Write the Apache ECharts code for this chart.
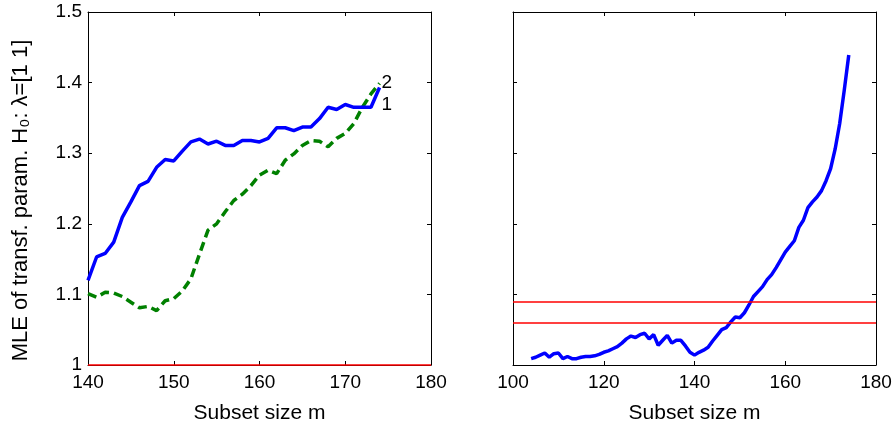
<!DOCTYPE html>
<html>
<head>
<meta charset="utf-8">
<script src="https://cdn.jsdelivr.net/npm/echarts@6/dist/echarts.min.js"></script>
<style>
  html, body { margin: 0; padding: 0; background: #fff; }
  #main { width: 894px; height: 426px; }
</style>
</head>
<body>
<div id="main"></div>
<script>
// left panel: subset sizes 140..174
var mLeft = [140, 141, 142, 143, 144, 145, 146, 147, 148, 149, 150, 151, 152, 153, 154, 155, 156, 157,
  158, 159, 160, 161, 162, 163, 164, 165, 166, 167, 168, 169, 170, 171, 172, 173, 174]
var mle1 = [1.120, 1.153, 1.158, 1.174, 1.209, 1.231, 1.254, 1.260, 1.280, 1.291, 1.289, 1.303, 1.316,
  1.320, 1.313, 1.317, 1.311, 1.311, 1.318, 1.318, 1.316, 1.321, 1.336, 1.336, 1.332, 1.337, 1.337,
  1.349, 1.365, 1.362, 1.369, 1.365, 1.365, 1.365, 1.393]
var mle2 = [1.101, 1.096, 1.103, 1.102, 1.097, 1.089, 1.081, 1.083, 1.077, 1.091, 1.094, 1.105, 1.122,
  1.157, 1.191, 1.200, 1.217, 1.233, 1.242, 1.254, 1.269, 1.276, 1.271, 1.290, 1.299, 1.311, 1.318,
  1.317, 1.309, 1.321, 1.328, 1.342, 1.365, 1.384, 1.399]

// right panel: subset sizes 104..174
var mRight = []
for (var i = 104; i <= 174; i++) mRight.push(i)
var stat = [1.009, 1.011, 1.014, 1.017, 1.011, 1.016, 1.017, 1.009, 1.012, 1.009, 1.009, 1.011, 1.012,
  1.012, 1.013, 1.015, 1.018, 1.020, 1.023, 1.026, 1.031, 1.037, 1.041, 1.039, 1.043, 1.045, 1.037,
  1.043, 1.028, 1.035, 1.042, 1.031, 1.035, 1.035, 1.027, 1.018, 1.014, 1.018, 1.021, 1.025, 1.034,
  1.042, 1.050, 1.053, 1.061, 1.068, 1.067, 1.074, 1.085, 1.097, 1.104, 1.111, 1.121, 1.128, 1.138,
  1.149, 1.160, 1.168, 1.176, 1.195, 1.205, 1.223, 1.231, 1.238, 1.247, 1.261, 1.278, 1.306, 1.342,
  1.389, 1.439]
var bands = [1.0915, 1.0600]

function pairs(xs, ys) {
  return xs.map(function(x, k) { return [x, ys[k]] })
}

var font = 'Liberation Sans, Arial, sans-serif'
var black = '#000'

function xAx(idx, min, max, step, pos, labels) {
  return {
    type: 'value', gridIndex: idx, min: min, max: max, interval: step, position: pos,
    name: labels ? 'Subset size m' : '', nameLocation: 'middle', nameGap: 38,
    nameTextStyle: { color: black, fontSize: 21, fontFamily: font },
    axisLine: { show: true, onZero: false, lineStyle: { color: black, width: 1 } },
    axisTick: { show: true, inside: true, length: 4, lineStyle: { color: black } },
    axisLabel: { show: labels, color: black, fontSize: 19, fontFamily: font, margin: 8 },
    splitLine: { show: false },
  }
}
function yAx(idx, pos, labels, name) {
  return {
    type: 'value', gridIndex: idx, min: 1, max: 1.5, interval: 0.1, position: pos,
    name: name || '', nameLocation: 'middle', nameGap: 56,
    nameTextStyle: { color: black, fontSize: 22, fontFamily: font, padding: [0, 24, 0, 0] },
    axisLine: { show: true, onZero: false, lineStyle: { color: black, width: 1 } },
    axisTick: { show: true, inside: true, length: 4, lineStyle: { color: black } },
    axisLabel: {
      show: labels, color: black, fontSize: 19, fontFamily: font, margin: 6,
      formatter: function(v) { return v === 1 ? '1' : v.toFixed(1) },
    },
    splitLine: { show: false },
  }
}

var chart = echarts.init(document.getElementById('main'))
var option = {
  animation: false,
  backgroundColor: '#fff',
  grid: [
    { left: 88, top: 12, width: 343, height: 353, outerBoundsMode: 'none' },
    { left: 513, top: 12, width: 363, height: 353, outerBoundsMode: 'none' },
  ],
  xAxis: [
    xAx(0, 140, 180, 10, 'bottom', true),
    xAx(0, 140, 180, 10, 'top', false),
    xAx(1, 100, 180, 20, 'bottom', true),
    xAx(1, 100, 180, 20, 'top', false),
  ],
  yAxis: [
    yAx(0, 'left', true, 'MLE of transf. param. H\u2080: \u03bb=[1 1]'),
    yAx(0, 'right', false),
    yAx(1, 'left', false),
    yAx(1, 'right', false),
  ],
  series: [
    {
      type: 'line', xAxisIndex: 0, yAxisIndex: 0, data: pairs(mLeft, mle2),
      showSymbol: false, symbol: 'none', z: 3,
      lineStyle: { color: '#008000', width: 3.5, type: [9, 5] },
      endLabel: { show: true, formatter: '2', color: black, fontSize: 19, fontFamily: font, offset: [-6, -1] },
      markLine: {
        silent: true, symbol: 'none', label: { show: false },
        lineStyle: { color: '#ff0000', width: 1.5, type: 'solid' },
        data: [{ yAxis: 1 }],
      },
    },
    {
      type: 'line', xAxisIndex: 0, yAxisIndex: 0, data: pairs(mLeft, mle1),
      showSymbol: false, symbol: 'none', z: 4,
      lineStyle: { color: '#0000ff', width: 3.5 },
      endLabel: { show: true, formatter: '1', color: black, fontSize: 19, fontFamily: font, offset: [-6, 17] },
    },
    {
      type: 'line', xAxisIndex: 2, yAxisIndex: 2, data: pairs(mRight, stat),
      showSymbol: false, symbol: 'none', z: 4,
      lineStyle: { color: '#0000ff', width: 3.5 },
      markLine: {
        silent: true, symbol: 'none', label: { show: false },
        lineStyle: { color: '#ff0000', width: 1.5, type: 'solid' },
        data: bands.map(function(b) { return { yAxis: b } }),
      },
    },
  ],
}
chart.setOption(option)
</script>
</body>
</html>
